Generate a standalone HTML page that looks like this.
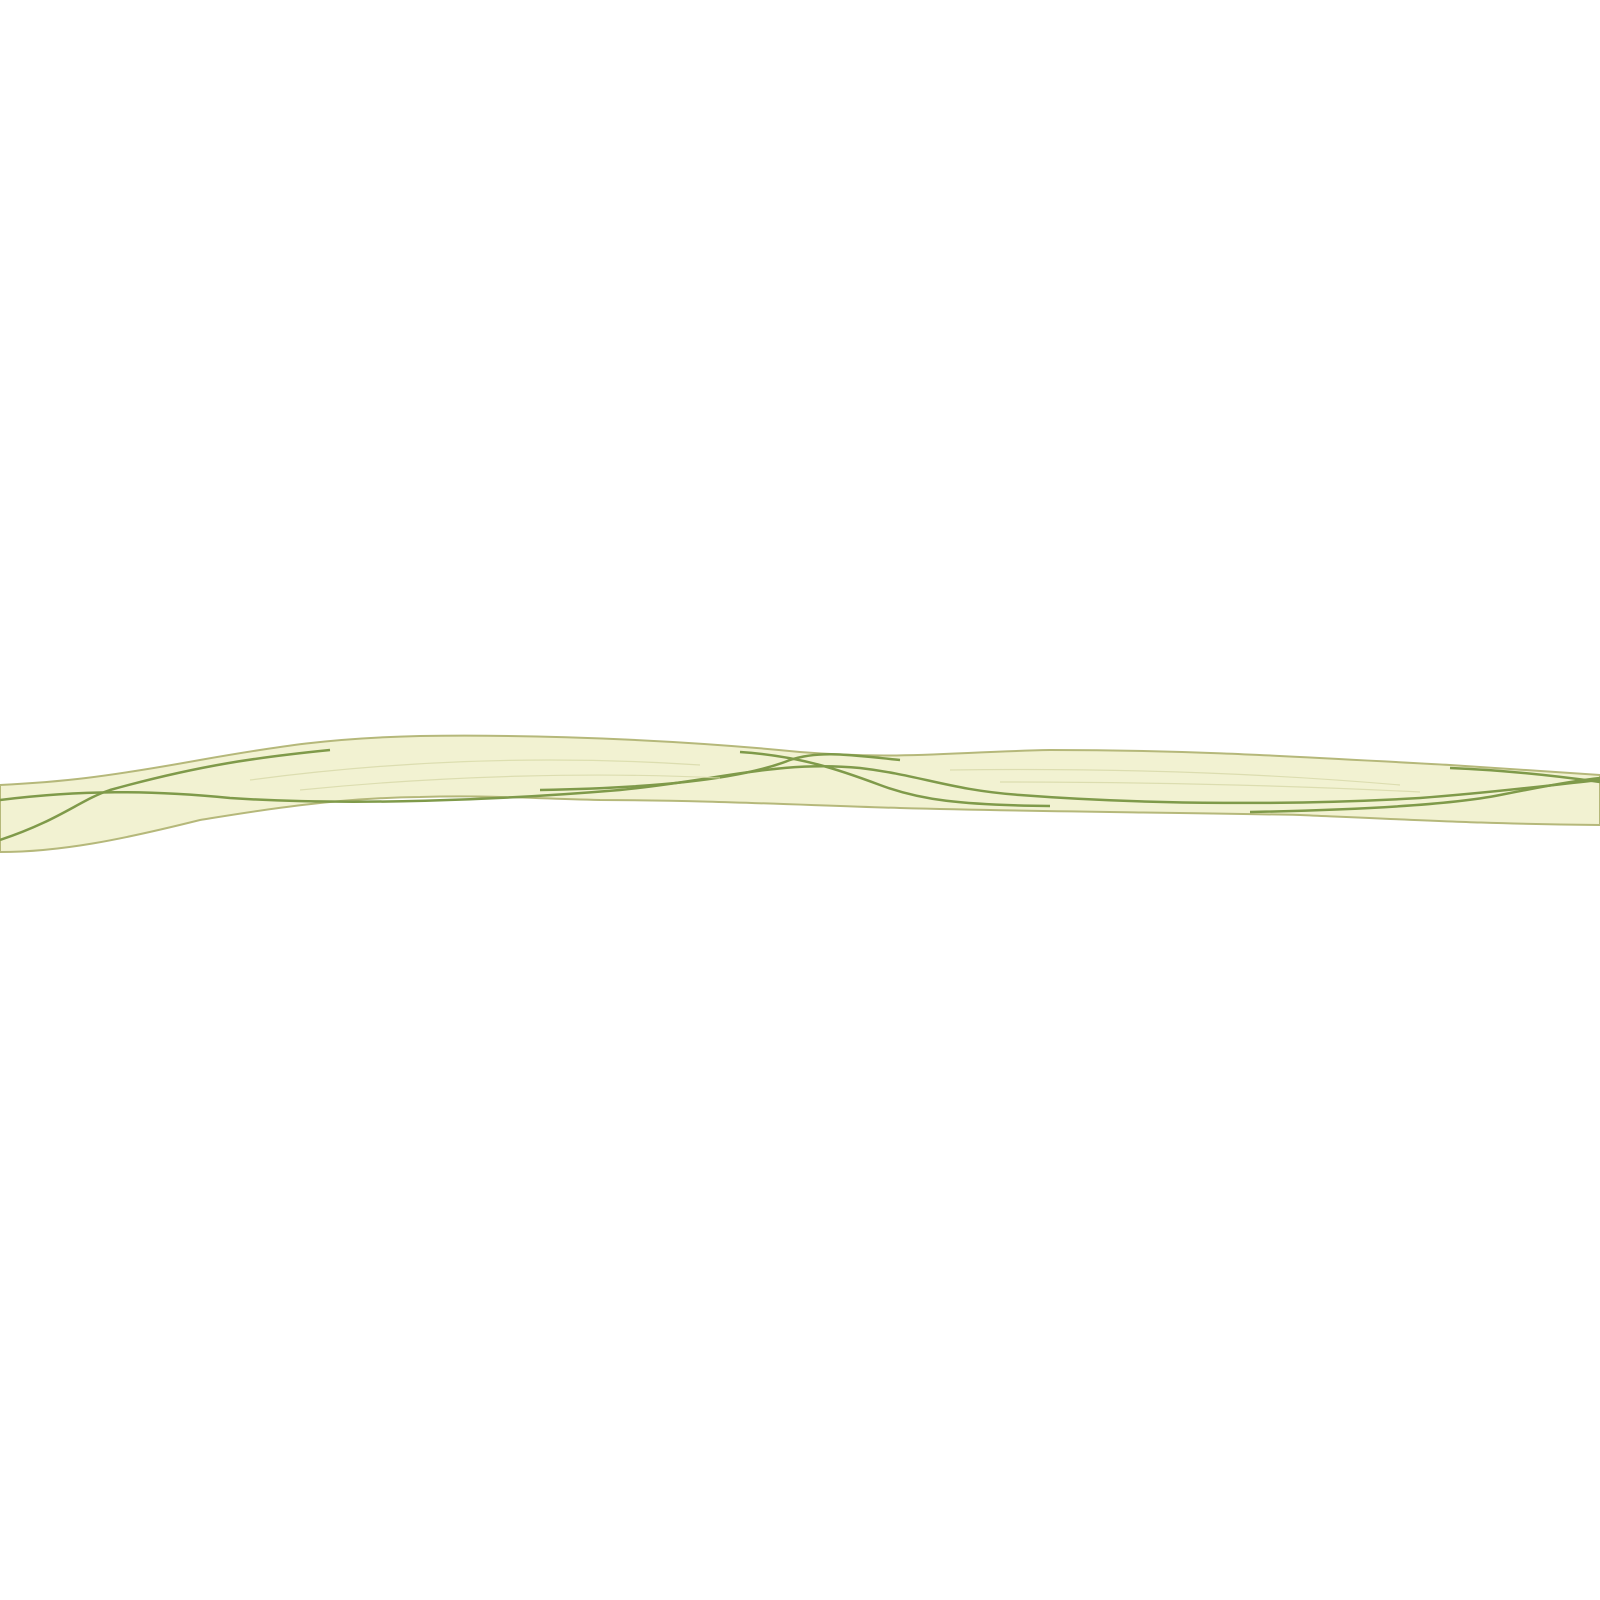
<!DOCTYPE html>
<html><head><style>html,body{margin:0;padding:0;background:#fff}svg{display:block}</style></head>
<body>
<svg width="1600" height="1600" viewBox="0 0 1600 1600" xmlns="http://www.w3.org/2000/svg">
<path d="M0,785 C60,782 100,778 200,760 C280,746 330,738 420,736 C560,734 700,742 800,752 C900,760 950,752 1050,750 C1200,750 1300,757 1450,765 L1600,775 L1600,825 C1500,824 1460,822 1300,815 C1150,812 1050,812 900,808 C800,805 700,800 600,800 C520,798 480,795 420,797 C330,798 250,812 200,820 C120,840 60,852 0,852 Z" fill="#f2f2d2" stroke="#b5b87a" stroke-width="2"/>
<g fill="none" stroke="#7f9a4a" stroke-width="2.5">
<path d="M0,800 C80,790 150,790 230,798 C350,806 500,800 620,790 C720,780 780,760 860,768 C920,775 950,790 1020,795 C1150,805 1300,805 1420,798 C1500,792 1550,785 1600,780"/>
<path d="M0,840 C60,820 80,800 110,790 C200,765 260,757 330,750"/>
<path d="M540,790 C650,788 740,780 790,760 C820,750 850,755 900,760"/>
<path d="M740,752 C800,756 840,770 880,785 C920,800 960,805 1050,806"/>
<path d="M1250,812 C1350,810 1450,805 1500,795 C1550,785 1580,780 1600,778"/>
<path d="M1450,768 C1500,770 1550,775 1600,782"/>
</g>
<g fill="none" stroke="#d7d9a8" stroke-width="1.2" opacity="0.8">
<path d="M250,780 C400,760 550,755 700,765"/>
<path d="M300,790 C450,775 600,772 720,778"/>
<path d="M950,770 C1100,768 1250,772 1400,785"/>
<path d="M1000,782 C1150,782 1300,786 1420,792"/>
</g>
</svg>
</body></html>
